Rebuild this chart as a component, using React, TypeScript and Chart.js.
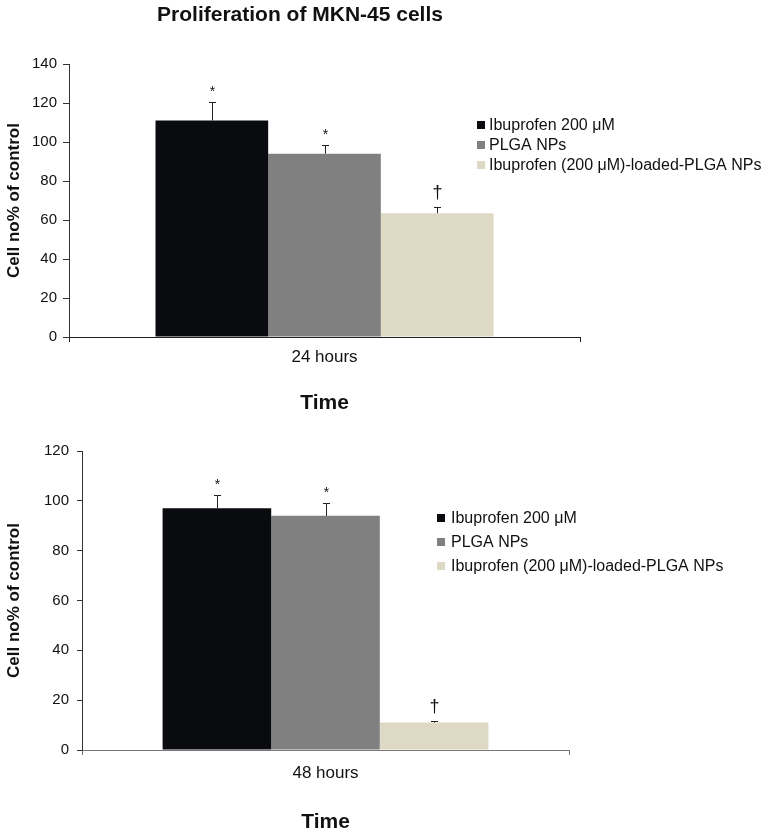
import React, { useEffect, useRef } from 'react';
import { Chart, registerables } from 'chart.js';

Chart.register(...registerables);

const FONT = "'Liberation Sans', Arial, Helvetica, sans-serif";

const SERIES_LABELS = ['Ibuprofen 200 μM', 'PLGA NPs', 'Ibuprofen (200 μM)-loaded-PLGA NPs'];
const SERIES_COLORS = ['#0a0b0e', '#808080', '#ddd9c4'];
const SIG_MARKERS = ['*', '*', '†'];

const TOP_CATEGORIES = ['24 hours'];
const TOP_MEANS = [111, 94, 63.5];
const TOP_ERRORS = [9.5, 4.5, 3];
const TOP_Y_MAX = 140;

const BOTTOM_CATEGORIES = ['48 hours'];
const BOTTOM_MEANS = [97, 94, 11];
const BOTTOM_ERRORS = [5.3, 5, 0.8];
const BOTTOM_Y_MAX = 120;

const Y_STEP = 20;
const CHART_TITLE = 'Proliferation of MKN-45 cells';
const X_TITLE = 'Time';
const Y_TITLE = 'Cell no% of control';

type PanelProps = {
  top: number;
  width: number;
  height: number;
  categories: string[];
  means: number[];
  errors: number[];
  yMax: number;
  area: { left: number; right: number; top: number; bottom: number };
  catPct: number;
  xAxisColor: string;
  xTickPad: number;
  xTitlePad: number;
  yTickPad: number;
  yTickLen: number;
  legend: { x: number; y: number; gap: number; spacing: number };
  title?: { text: string; x: number; y: number };
};

function Panel(p: PanelProps) {
  const ref = useRef<HTMLCanvasElement | null>(null);
  useEffect(() => {
    const canvas = ref.current;
    if (!canvas) return;
    const overlay = {
      id: 'overlay',
      afterDatasetsDraw(chart: any) {
        const ctx = chart.ctx;
        const yScale = chart.scales.y;
        ctx.save();
        chart.data.datasets.forEach((ds: any, i: number) => {
          const meta = chart.getDatasetMeta(i);
          meta.data.forEach((bar: any, j: number) => {
            const v = ds.data[j];
            const e = p.errors[i];
            const x = Math.round(bar.x) + 0.5;
            const yTop = Math.round(yScale.getPixelForValue(v + e)) + 0.5;
            ctx.strokeStyle = '#222';
            ctx.lineWidth = 1;
            ctx.beginPath();
            ctx.moveTo(x, bar.y);
            ctx.lineTo(x, yTop);
            ctx.moveTo(x - 3.5, yTop);
            ctx.lineTo(x + 3.5, yTop);
            ctx.stroke();
            const m = SIG_MARKERS[i];
            ctx.fillStyle = '#111';
            ctx.textAlign = 'center';
            ctx.textBaseline = 'alphabetic';
            if (m === '*') {
              ctx.font = `14px ${FONT}`;
              ctx.fillText(m, x, yTop - 7);
            } else {
              ctx.font = `18px ${FONT}`;
              ctx.fillText(m, x, yTop - 10);
            }
          });
        });
        ctx.restore();
      },
      afterDraw(chart: any) {
        const ctx = chart.ctx;
        ctx.save();
        ctx.font = `16px ${FONT}`;
        ctx.textBaseline = 'middle';
        ctx.textAlign = 'left';
        chart.data.datasets.forEach((ds: any, i: number) => {
          const cy = p.legend.y + i * p.legend.spacing;
          ctx.fillStyle = ds.backgroundColor;
          ctx.fillRect(p.legend.x, cy - 4, 8, 8);
          ctx.fillStyle = '#111';
          ctx.fillText(ds.label, p.legend.x + p.legend.gap, cy + 1);
        });
        if (p.title) {
          ctx.font = `bold 21px ${FONT}`;
          ctx.textAlign = 'center';
          ctx.textBaseline = 'middle';
          ctx.fillStyle = '#111';
          ctx.fillText(p.title.text, p.title.x, p.title.y);
        }
        ctx.restore();
      },
    };
    const chart = new Chart(canvas, {
      type: 'bar',
      data: {
        labels: p.categories,
        datasets: SERIES_LABELS.map((label, i) => ({
          label,
          data: [p.means[i]],
          backgroundColor: SERIES_COLORS[i],
          borderWidth: 0,
          barPercentage: 1,
          categoryPercentage: p.catPct,
        })),
      },
      options: {
        responsive: false,
        animation: false,
        devicePixelRatio: 1,
        layout: {
          padding: { top: p.area.top, right: p.width - p.area.right, left: 0, bottom: 0 },
        },
        plugins: {
          legend: { display: false },
          tooltip: { enabled: false },
          title: { display: false },
        },
        scales: {
          x: {
            offset: true,
            grid: {
              display: true,
              offset: true,
              drawOnChartArea: false,
              drawTicks: true,
              tickLength: 5,
              color: p.xAxisColor,
            },
            border: { color: p.xAxisColor, width: 1 },
            ticks: { font: { size: 17, family: FONT }, color: '#111', padding: p.xTickPad },
            title: {
              display: true,
              text: X_TITLE,
              font: { size: 21, weight: 'bold', family: FONT },
              color: '#111',
              padding: { top: 0, bottom: p.xTitlePad },
            },
            afterFit: (s: any) => {
              s.height = p.height - p.area.bottom;
            },
          },
          y: {
            min: 0,
            max: p.yMax,
            ticks: {
              stepSize: Y_STEP,
              font: { size: 15, family: FONT },
              color: '#111',
              padding: p.yTickPad,
            },
            grid: {
              drawOnChartArea: false,
              drawTicks: true,
              tickLength: p.yTickLen,
              color: '#333',
            },
            border: { color: '#333', width: 1 },
            title: {
              display: true,
              text: Y_TITLE,
              font: { size: 17, weight: 'bold', family: FONT },
              color: '#111',
              padding: { top: 4, bottom: 4 },
            },
            afterFit: (s: any) => {
              s.width = p.area.left;
            },
          },
        },
      } as any,
      plugins: [overlay],
    });
    return () => chart.destroy();
  }, []);
  return (
    <canvas
      ref={ref}
      width={p.width}
      height={p.height}
      style={{ position: 'absolute', left: 0, top: p.top, width: p.width, height: p.height }}
    />
  );
}

export default function App() {
  return (
    <div style={{ position: 'absolute', left: 0, top: 0, width: 769, height: 835, background: '#fff' }}>
      <Panel
        top={0}
        width={769}
        height={420}
        categories={TOP_CATEGORIES}
        means={TOP_MEANS}
        errors={TOP_ERRORS}
        yMax={TOP_Y_MAX}
        area={{ left: 69, right: 580, top: 64, bottom: 337 }}
        catPct={0.6614}
        xAxisColor="#222"
        xTickPad={5}
        xTitlePad={4}
        yTickPad={6}
        yTickLen={6}
        legend={{ x: 477, y: 125, gap: 12, spacing: 20 }}
        title={{ text: CHART_TITLE, x: 300, y: 15 }}
      />
      <Panel
        top={420}
        width={769}
        height={415}
        categories={BOTTOM_CATEGORIES}
        means={BOTTOM_MEANS}
        errors={BOTTOM_ERRORS}
        yMax={BOTTOM_Y_MAX}
        area={{ left: 82, right: 569, top: 31, bottom: 330 }}
        catPct={0.669}
        xAxisColor="#777"
        xTickPad={8}
        xTitlePad={0}
        yTickPad={8}
        yTickLen={5}
        legend={{ x: 437, y: 98, gap: 14, spacing: 24 }}
      />
    </div>
  );
}
